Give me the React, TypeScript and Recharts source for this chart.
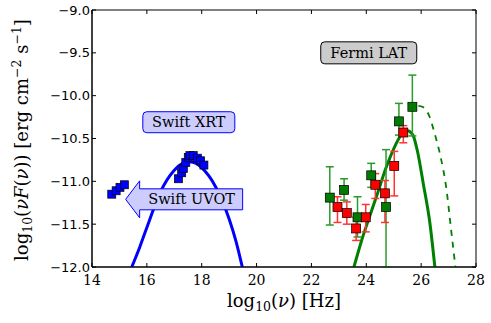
import React from "react";
import {
  ComposedChart,
  Line,
  Scatter,
  XAxis,
  YAxis,
  ErrorBar,
  ReferenceDot,
  ReferenceArea,
  Label,
} from "recharts";

// Swift UVOT points
const uvotX = [14.72, 14.88, 15.02, 15.18];
const uvotY = [-11.15, -11.11, -11.07, -11.04];

// Swift XRT points
const xrtX = [17.15, 17.27, 17.33, 17.42, 17.51, 17.57, 17.69, 17.84, 17.96, 18.08];
const xrtY = [-10.97, -10.9, -10.85, -10.78, -10.72, -10.7, -10.7, -10.73, -10.76, -10.81];

// synchrotron model (blue)
const syncX = [15.45, 15.75, 16.0, 16.5, 17.0, 17.3, 17.55, 17.8, 18.0, 18.5, 19.0, 19.25, 19.48];
const syncY = [-12.0, -11.76, -11.54, -11.12, -10.87, -10.79, -10.77, -10.79, -10.84, -11.06, -11.44, -11.7, -12.0];

// IC model, absorbed (solid green) and intrinsic (dashed green)
const icX = [23.55, 23.83, 24.1, 24.4, 24.7, 25.0, 25.25, 25.5, 25.7, 25.86, 26.08, 26.32, 26.5];
const icY = [-12.0, -11.69, -11.43, -11.15, -10.86, -10.62, -10.47, -10.41, -10.46, -10.64, -11.03, -11.49, -12.0];
const icIntrX = [25.9, 26.05, 26.3, 26.5, 26.7, 26.93, 27.08, 27.25];
const icIntrY = [-10.12, -10.13, -10.24, -10.45, -10.7, -11.11, -11.53, -12.0];

// Fermi LAT, green
const latGX = [22.67, 23.19, 23.68, 24.18, 24.72, 25.19, 25.68];
const latGY = [-11.19, -11.1, -11.42, -10.93, -11.3, -10.3, -10.13];
const latGHi = [-10.83, -10.97, -11.18, -10.79, -10.63, -10.09, -9.76];
const latGLo = [-11.51, -11.22, -11.65, -11.07, -12.0, -10.46, -10.47];

// Fermi LAT, red
const latRX = [22.95, 23.29, 23.63, 23.98, 24.33, 24.68, 25.02, 25.35];
const latRY = [-11.3, -11.37, -11.55, -11.42, -11.04, -11.14, -10.82, -10.43];
const latRHi = [-11.18, -11.24, -11.42, -11.27, -10.91, -10.99, -10.65, -10.35];
const latRLo = [-11.48, -11.5, -11.69, -11.59, -11.2, -11.48, -11.17, -10.55];

const xTicks = [14, 16, 18, 20, 22, 24, 26, 28];
const yTicks = [-12, -11.5, -11, -10.5, -10, -9.5, -9];

const pts = (xs: number[], ys: number[]) => xs.map((x, i) => ({ x, y: ys[i] }));
const errPts = (xs: number[], ys: number[], hi: number[], lo: number[]) =>
  xs.map((x, i) => ({ x, y: ys[i], ey: [ys[i] - lo[i], hi[i] - ys[i]], ex: 0.12 }));

const SERIF = "'DejaVu Serif', 'Liberation Serif', serif";
const SANS = "'DejaVu Sans', sans-serif";

const TOP = 10;
const RIGHT = 476;

const square = (fill: string, s: number) => (p: any) =>
  <rect x={p.cx - s / 2} y={p.cy - s / 2} width={s} height={s} fill={fill} stroke="#000" strokeWidth={0.7} />;

const minus = (v: number) => v.toFixed(1).replace("-", "\u2212");

const BottomTick = (p: any) => (
  <g>
    <line x1={p.x} y1={p.y} x2={p.x} y2={p.y - 4} stroke="#000" />
    <line x1={p.x} y1={TOP} x2={p.x} y2={TOP + 4} stroke="#000" />
    <text x={p.x} y={p.y + 18} textAnchor="middle" style={{ fontFamily: SERIF }} fontSize={14} fill="#000">
      {p.payload.value}
    </text>
  </g>
);
const LeftTick = (p: any) => (
  <g>
    <line x1={p.x} y1={p.y} x2={p.x + 4} y2={p.y} stroke="#000" />
    <line x1={RIGHT} y1={p.y} x2={RIGHT - 4} y2={p.y} stroke="#000" />
    <text x={p.x - 2} y={p.y + 4.5} textAnchor="end" style={{ fontFamily: SANS }} fontSize={13} fill="#000">
      {minus(p.payload.value)}
    </text>
  </g>
);

const XrtBox = (p: any) => (
  <g>
    <rect x={p.cx - 46} y={p.cy - 10.5} width={92} height={21} rx={4} fill="#ccccff" stroke="#0000ff" strokeWidth={1} />
    <text x={p.cx} y={p.cy + 5} textAnchor="middle" style={{ fontFamily: SERIF }} fontSize={14.5} fill="#000">Swift XRT</text>
  </g>
);
const FermiBox = (p: any) => (
  <g>
    <rect x={p.cx - 48} y={p.cy - 11} width={96} height={22} rx={4} fill="#cccccc" stroke="#000" strokeWidth={1} />
    <text x={p.cx} y={p.cy + 5} textAnchor="middle" style={{ fontFamily: SERIF }} fontSize={14.5} fill="#000">Fermi LAT</text>
  </g>
);
const UvotArrow = (p: any) => {
  const { cx, cy } = p;
  const d = `M${cx - 64},${cy} L${cx - 50},${cy - 18.5} L${cx - 50},${cy - 10.5} L${cx + 53},${cy - 10.5} L${cx + 53},${cy + 10.5} L${cx - 50},${cy + 10.5} L${cx - 50},${cy + 18.5} Z`;
  return (
    <g>
      <path d={d} fill="#ccccff" stroke="#0000ff" strokeWidth={1} />
      <text x={cx + 2} y={cy + 5} textAnchor="middle" style={{ fontFamily: SERIF }} fontSize={14.5} fill="#000">Swift UVOT</text>
    </g>
  );
};

const XLabel = () => (
  <text x={284} y={307} textAnchor="middle" style={{ fontFamily: SERIF }} fontSize={18} fill="#000">
    log<tspan dy={4} fontSize={12.5}>10</tspan>
    <tspan dy={-4}>(</tspan>
    <tspan fontStyle="italic">ν</tspan>) [Hz]
  </text>
);
const YLabel = () => (
  <text transform="translate(28,140) rotate(-90)" textAnchor="middle" style={{ fontFamily: SERIF }} fontSize={18} fill="#000">
    log<tspan dy={4} fontSize={12.5}>10</tspan>
    <tspan dy={-4}>(</tspan>
    <tspan fontStyle="italic">νF</tspan>(<tspan fontStyle="italic">ν</tspan>)) [erg cm
    <tspan dy={-7} fontSize={12.5}>−2</tspan>
    <tspan dy={7}> s</tspan>
    <tspan dy={-7} fontSize={12.5}>−1</tspan>
    <tspan dy={7}>]</tspan>
  </text>
);

const App = () => {
  return (
    <div style={{ position: "absolute", left: 0, top: 0, width: 491, height: 323, background: "#fff" }}>
      <ComposedChart width={491} height={323} margin={{ top: TOP, right: 15, left: 32, bottom: 26 }}>
        <XAxis
          dataKey="x"
          type="number"
          domain={[14, 28]}
          ticks={xTicks}
          interval={0}
          allowDataOverflow
          height={30}
          tickSize={0}
          tickMargin={0}
          tickLine={false}
          axisLine={{ stroke: "#000" }}
          tick={BottomTick}
        >
          <Label content={XLabel} />
        </XAxis>
        <YAxis
          dataKey="y"
          type="number"
          domain={[-12, -9]}
          ticks={yTicks}
          interval={0}
          allowDataOverflow
          width={60}
          tickSize={0}
          tickMargin={0}
          tickLine={false}
          axisLine={{ stroke: "#000" }}
          tick={LeftTick}
        >
          <Label content={YLabel} />
        </YAxis>

        <ReferenceArea x1={14} x2={28} y1={-12} y2={-9} fill="none" stroke="#000" strokeWidth={1} />

        <Line data={pts(syncX, syncY)} dataKey="y" type="monotone" stroke="#0000ff" strokeWidth={3} dot={false} isAnimationActive={false} />
        <Line data={pts(icX, icY)} dataKey="y" type="monotone" stroke="#008000" strokeWidth={3} dot={false} isAnimationActive={false} />
        <Line data={pts(icIntrX, icIntrY)} dataKey="y" type="monotone" stroke="#008000" strokeWidth={1.8} strokeDasharray="6 6" dot={false} isAnimationActive={false} />

        <Scatter data={pts(uvotX, uvotY)} shape={square("#0000ff", 8)} isAnimationActive={false} />
        <Scatter data={pts(xrtX, xrtY)} shape={square("#0000ff", 8)} isAnimationActive={false} />

        <Scatter data={errPts(latGX, latGY, latGHi, latGLo)} shape={square("#007a00", 9)} isAnimationActive={false}>
          <ErrorBar dataKey="ey" direction="y" width={4} stroke="#2a9a2a" strokeWidth={1.5} />
          <ErrorBar dataKey="ex" direction="x" width={4} stroke="#2a9a2a" strokeWidth={1.5} />
        </Scatter>
        <Scatter data={errPts(latRX, latRY, latRHi, latRLo)} shape={square("#ff0000", 9)} isAnimationActive={false}>
          <ErrorBar dataKey="ey" direction="y" width={4} stroke="#ff3333" strokeWidth={1.5} />
          <ErrorBar dataKey="ex" direction="x" width={4} stroke="#ff3333" strokeWidth={1.5} />
        </Scatter>

        <ReferenceDot x={17.53} y={-10.31} shape={XrtBox} />
        <ReferenceDot x={17.56} y={-11.21} shape={UvotArrow} />
        <ReferenceDot x={24.09} y={-9.5} shape={FermiBox} />
      </ComposedChart>
    </div>
  );
};

export default App;
